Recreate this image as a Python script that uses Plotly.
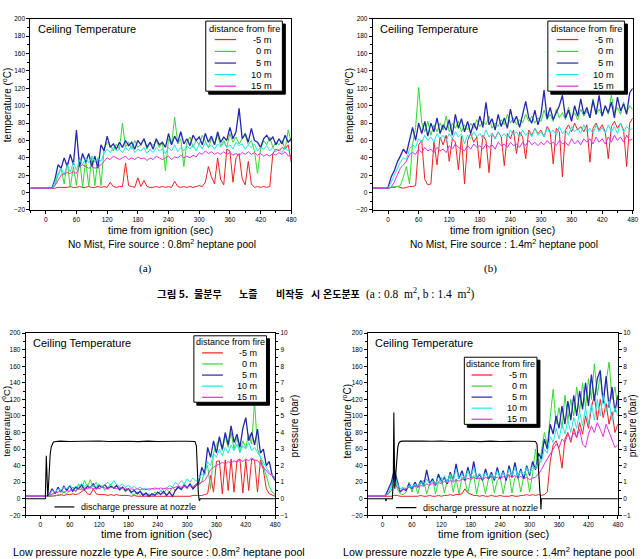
import plotly.graph_objects as go

# ---------------- data ----------------
T = [-30, -24, -18, -12, -6, 0, 6, 12, 18, 24, 30, 36, 42, 48, 54, 60, 66, 72, 78, 84,
     90, 96, 102, 108, 114, 120, 126, 132, 138, 144, 150, 156, 162, 168, 174, 180, 186, 192, 198, 204,
     210, 216, 222, 228, 234, 240, 246, 252, 258, 264, 270, 276, 282, 288, 294, 300, 306, 312, 318, 324,
     330, 336, 342, 348, 354, 360, 366, 372, 378, 384, 390, 396, 402, 408, 414, 420, 426, 432, 438, 444,
     450, 456, 462, 468, 474, 480]

SERIES_NAMES = ["-5 m", "0 m", "5 m", "10 m", "15 m"]

# (a) No Mist, 0.8 m2
rA = [5,5,5,5,5,5,5,5,5,6, 6,6,6,7,6,6,7,6,6,7, 6,6,7,6,7,6,12,7,6,7, 7,34,8,7,6,17,7,14,7,6,
      6,7,6,7,6,7,6,13,7,6, 7,6,7,6,7,8,7,12,30,18, 10,40,15,9,50,48,12,40,45,16, 9,36,10,6,7,6,7,6,7,45,
      50,48,52,50,55,35]
gA = [5,5,5,5,5,5,5,5,8,20, 28,10,35,6,30,8,40,6,38,7, 42,8,40,8,50,58,55,48,56,50, 80,52,58,50,60,52,56,62,50,58,
      54,60,52,58,25,62,55,87,56,62, 30,58,64,52,60,55,66,58,52,62, 56,66,54,60,52,68,58,64,56,62, 66,55,60,48,22,50,60,55,64,52,
      58,55,60,50,72,58]
bA = [5,5,5,5,5,5,5,5,15,32, 28,40,30,44,32,72,30,45,35,45, 30,42,28,55,48,65,52,56,50,58, 52,60,54,58,50,60,55,62,52,58,
      50,62,55,58,52,68,55,65,58,70, 56,62,54,66,60,64,55,68,58,65, 55,70,58,64,60,75,62,70,97,62, 68,58,74,60,58,52,62,66,60,64,
      55,62,56,66,58,62]
cA = [5,5,5,5,5,5,5,5,12,22, 28,20,32,24,35,26,38,32,40,34, 42,35,40,36,45,50,46,52,48,50, 46,52,48,54,46,50,48,52,45,50,
      46,52,48,50,45,52,48,55,47,52, 48,54,50,55,48,56,50,58,52,55, 50,56,52,58,52,55,50,58,54,56, 50,55,52,56,48,52,50,54,48,52,
      47,50,46,52,48,50]
mA = [5,5,5,5,5,5,5,5,8,14, 20,22,23,22,24,22,30,32,30,28, 30,28,30,32,36,40,38,42,40,38, 40,42,38,40,38,41,39,40,37,40,
      38,42,40,38,40,42,38,41,40,43, 40,42,40,43,41,46,44,48,45,47, 44,46,44,47,44,46,43,45,43,46, 44,47,44,46,43,45,42,44,42,45,
      43,46,44,47,42,43]

# (b) No Mist, 1.4 m2
rB = [5,5,5,5,5,5,6,6,7,6, 5,6,7,7,8,55,60,15,9,10, 58,32,64,55,66,36,62,58,26,65, 10,60,68,58,64,28,66,60,23,68,
      62,70,64,31,68,62,72,45,70,64, 39,72,66,74,68,72,64,76,70,33, 74,70,18,72,78,70,80,72,76,70, 78,35,74,80,72,78,70,39,76,82,
      74,80,72,30,80,86]
gB = [5,5,5,5,5,5,6,7,7,8, 18,30,10,55,75,121,80,70,82,66, 78,70,80,72,88,70,80,74,82,70, 78,72,80,74,84,76,82,78,88,74,
      80,76,84,78,90,80,86,78,84,80, 90,82,88,80,86,82,95,84,90,82, 96,86,92,84,98,86,92,84,96,88, 94,86,108,90,96,88,100,90,112,92,
      98,90,104,92,100,95]
bB = [5,5,5,5,5,6,18,25,35,42, 50,45,62,75,60,80,68,82,65,80, 70,86,68,78,72,84,66,90,74,85, 70,82,68,80,72,88,75,104,78,85,
      72,90,76,86,74,96,80,88,75,92, 105,86,80,95,78,90,118,85,98,84, 92,100,112,86,95,82,100,88,108,90, 98,86,106,90,112,88,100,92,104,86,
      110,94,102,90,115,120]
cB = [5,5,5,5,5,5,12,20,28,35, 40,38,50,55,52,62,58,66,60,64, 58,68,62,66,60,68,62,70,64,68, 56,66,62,70,64,68,62,72,64,68,
      62,70,64,68,62,72,66,70,64,72, 66,70,64,74,66,70,64,74,68,72, 66,76,68,72,66,76,70,74,68,78, 70,74,68,78,70,75,68,78,70,76,
      68,80,70,76,72,74]
mB = [5,5,5,5,5,5,6,12,20,28, 32,36,44,46,44,50,46,52,48,50, 46,52,48,50,46,54,50,56,52,50, 48,54,50,56,52,54,50,56,52,55,
      50,58,54,56,52,58,54,56,52,58, 54,60,55,58,54,58,55,60,56,58, 54,60,56,58,54,62,56,60,55,62, 58,62,56,64,58,62,56,64,58,66,
      60,64,58,66,60,62]

# (c) Low pressure nozzle type A, 0.8 m2
rC = [3,3,3,3,3,3,3,3,3,3, 4,4,5,4,5,5,6,5,6,8, 11,6,5,12,6,5,5,5,4,5, 4,5,4,4,4,4,3,4,3,3,
      3,3,3,3,3,3,3,3,3,3, 3,3,3,3,3,3,3,4,4,4, 4,5,6,28,8,45,46,6,47,10, 48,8,46,48,7,47,10,48,46,8,
      47,35,12,6,4,3]
gC = [3,3,3,3,3,3,3,3,3,4, 3,5,4,8,6,10,14,8,18,12, 22,15,23,14,20,12,16,10,14,18, 12,15,10,14,8,12,6,5,8,4,
      7,4,6,3,8,5,10,6,12,8, 14,10,16,12,18,14,16,12,18,16, 20,35,40,12,55,65,72,58,76,62, 80,60,74,56,70,62,78,66,118,60,
      50,40,28,15,8,5]
bC = [3,3,3,3,3,3,3,3,5,12, 6,14,8,15,10,16,9,14,12,17, 11,15,13,18,12,16,14,17,12,15, 13,16,11,14,10,12,8,10,6,9,
      4,7,3,6,4,8,5,9,4,8, 3,10,14,11,16,13,18,12,16,20, 38,30,62,50,70,55,75,60,80,65, 88,68,78,62,85,98,70,80,65,84,
      55,60,40,45,28,22]
cC = [3,3,3,3,3,3,3,3,4,10, 8,12,10,14,12,16,13,15,14,18, 15,17,14,16,15,18,14,17,20,16, 22,17,15,18,14,16,13,15,12,14,
      11,13,10,12,11,13,10,12,13,16, 14,20,17,22,18,24,20,25,21,24, 30,28,45,40,55,50,60,52,62,55, 65,58,66,56,64,60,68,58,62,56,
      50,45,38,32,28,25]
mC = [3,3,3,3,3,3,3,3,4,6, 7,8,9,8,10,9,11,10,12,11, 13,12,14,12,13,12,14,13,12,14, 13,12,14,12,13,11,12,11,12,11,
      12,11,12,12,13,12,13,12,13,12, 13,14,15,14,15,14,16,15,16,18, 20,22,28,35,38,40,42,44,42,45, 43,46,44,47,45,48,46,49,47,46,
      42,38,34,30,28,26]
tPC = [-30, 0, 10, 12, 13, 14, 15, 16, 18, 20, 22, 24, 26, 28, 32, 40, 60, 80, 100, 120,
       140, 160, 180, 200, 220, 240, 260, 280, 300, 316, 319, 321, 323, 325, 327, 330, 400, 480]
pC = [0, 0, 0, 2.6, 1.4, 0.3, 0.15, 0.5, 1.8, 2.7, 3.1, 3.3, 3.4, 3.44, 3.46, 3.48, 3.46, 3.48, 3.47, 3.49,
      3.46, 3.48, 3.47, 3.45, 3.48, 3.46, 3.48, 3.47, 3.47, 3.46, 3.2, 1.5, 0.3, -0.12, 0, 0, 0, 0]

# (d) Low pressure nozzle type A, 1.4 m2
rD = [3,3,3,3,3,3,3,3,3,4, 4,3,3,3,3,3,3,3,4,3, 3,4,3,3,4,3,4,4,5,4, 5,5,6,12,7,5,4,4,3,4,
      3,3,4,3,3,4,3,3,3,4, 3,3,4,4,5,4,5,4,5,4, 5,8,45,65,70,60,37,72,80,68, 85,74,92,78,100,85,110,125,95,120,
      98,115,90,105,80,90]
gD = [3,3,3,3,3,3,4,6,15,38, 12,6,5,8,20,8,18,6,20,22, 6,18,24,6,20,26,7,22,28,8, 24,6,26,22,7,24,28,6,25,22,
      6,24,28,7,22,26,6,24,30,7, 26,28,8,28,30,8,30,60,35,55, 80,65,100,132,90,110,85,125,95,120, 100,135,105,140,110,145,120,163,125,150,
      118,140,165,120,135,110]
bD = [3,3,3,3,3,3,4,12,20,35, 22,8,12,10,18,12,20,14,22,16, 35,18,24,16,30,20,26,18,32,22, 42,24,34,22,38,25,45,24,30,22,
      36,24,32,22,38,24,34,22,40,26, 44,25,36,24,40,28,45,35,55,48, 72,60,90,78,100,85,112,90,118,95, 125,100,130,108,140,112,150,118,145,155,
      115,148,110,135,105,125]
cD = [3,3,3,3,3,3,4,8,14,28, 18,12,14,12,16,14,18,15,20,16, 24,18,22,17,26,20,28,20,30,22, 36,24,30,24,34,26,38,25,30,24,
      32,26,30,24,34,26,32,25,36,28, 38,27,34,28,38,30,40,36,48,44, 60,55,75,68,85,72,90,78,95,80, 98,85,105,88,110,90,115,95,120,100,
      125,105,118,95,110,100]
mD = [3,3,3,3,3,3,4,6,10,18, 14,10,11,12,14,13,15,14,16,15, 18,16,19,17,20,18,21,19,22,20, 23,21,24,22,25,23,26,24,25,23,
      26,24,27,25,26,24,27,25,28,26, 28,25,27,24,26,23,25,26,30,35, 42,48,55,60,66,62,72,68,78,72, 80,74,84,66,62,78,88,80,92,84,
      75,90,80,70,62,65]
tPD = [-30, 0, 6, 7, 8, 20, 22, 23, 24, 25, 27, 29, 31, 33, 36, 40, 60, 80, 100, 120,
       140, 160, 180, 200, 220, 240, 260, 280, 300, 312, 315, 317, 319, 321, 322, 323, 324, 400, 480]
pD = [0, 0, 0, -0.15, 0, 0, 1.2, 5.2, 1.5, 0.6, 1.5, 2.6, 3.1, 3.35, 3.45, 3.48, 3.46, 3.48, 3.47, 3.49,
      3.46, 3.48, 3.47, 3.45, 3.48, 3.46, 3.48, 3.47, 3.47, 3.46, 3.3, 2.2, 1.0, 0.4, 0.2, -0.65, 0, 0, 0]

X_TICKS = [0, 60, 120, 180, 240, 300, 360, 420, 480]

# ---------------- layout helpers ----------------
W, H = 644, 559
def px(x): return x / W
def py(y): return 1 - y / H

FONT = "Liberation Sans, Arial, sans-serif"
SERIF = "Liberation Serif, Times New Roman, serif"
KR = "Noto Sans CJK KR, sans-serif"
COLORS = ["#ee2020", "#33d633", "#2626b0", "#22e4e4", "#e030e0"]
WIDTHS = [1, 1, 1.3, 1, 1]

fig = go.Figure()

panels = [
    dict(ax="", series=[rA, gA, bA, cA, mA], dx=(30.7, 294.0), dy=(15.0, 208.6)),
    dict(ax="2", series=[rB, gB, bB, cB, mB], dx=(376.3, 638.7), dy=(15.0, 208.6)),
    dict(ax="3", series=[rC, gC, bC, cC, mC], dx=(26.0, 277.7), dy=(333.3, 517.8)),
    dict(ax="4", series=[rD, gD, bD, cD, mD], dx=(371.3, 623.7), dy=(333.3, 517.8)),
]

layout_axes = {}
tickfont = dict(size=6.5, family=FONT, color="black")
for p in panels:
    a = p["ax"]
    xa, ya = "x" + a, "y" + a
    for vals, col, wd, nm in zip(p["series"], COLORS, WIDTHS, SERIES_NAMES):
        fig.add_trace(go.Scatter(x=T, y=vals, mode="lines", name=nm, xaxis=xa, yaxis=ya,
                                 line=dict(color=col, width=wd), showlegend=False, hoverinfo="skip"))
    layout_axes["xaxis" + a] = dict(
        domain=[px(p["dx"][0]), px(p["dx"][1])], range=[-30, 480], anchor=ya,
        tickmode="array", tickvals=X_TICKS, ticks="outside", ticklen=3, tickwidth=1, tickcolor="black",
        showline=True, linecolor="black", linewidth=1, mirror=True, showgrid=False, zeroline=False,
        tickfont=tickfont,
        minor=dict(ticks="outside", dtick=30, tick0=0, ticklen=2, tickcolor="black", showgrid=False))
    layout_axes["yaxis" + a] = dict(
        domain=[py(p["dy"][1]), py(p["dy"][0])], range=[-20, 200], anchor=xa,
        tick0=0, dtick=20, ticks="outside", ticklen=3, tickwidth=1, tickcolor="black",
        showline=True, linecolor="black", linewidth=1, mirror=True, showgrid=False, zeroline=False,
        tickfont=tickfont,
        minor=dict(ticks="outside", dtick=10, tick0=0, ticklen=2, tickcolor="black", showgrid=False))

# pressure traces
for tp, pv, ya, xa, over in [(tPC, pC, "y5", "x3", "y3"), (tPD, pD, "y6", "x4", "y4")]:
    fig.add_trace(go.Scatter(x=tp, y=pv, mode="lines", name="discharge pressure at nozzle",
                             xaxis=xa, yaxis=ya, line=dict(color="black", width=1.1),
                             showlegend=False, hoverinfo="skip"))
    layout_axes["yaxis" + ya[1:]] = dict(
        overlaying=over, side="right", anchor=xa, range=[-1, 10], tick0=0, dtick=1,
        ticks="outside", ticklen=3, tickwidth=1, tickcolor="black",
        showline=True, linecolor="black", linewidth=1, showgrid=False, zeroline=False,
        tickfont=tickfont,
        minor=dict(ticks="outside", dtick=0.5, tick0=0, ticklen=2, tickcolor="black", showgrid=False))

annotations = []
shapes = []

def text(x, y, s, size, family=FONT, xanchor="center", angle=0):
    annotations.append(dict(x=px(x), y=py(y), xref="paper", yref="paper", text=s, showarrow=False,
                            xanchor=xanchor, yanchor="middle", textangle=angle,
                            font=dict(size=size, family=family, color="black")))

def rect(x0, y0, x1, y1, fill, lc, lw):
    shapes.append(dict(type="rect", xref="paper", yref="paper", x0=px(x0), x1=px(x1),
                       y0=py(y1), y1=py(y0), fillcolor=fill, line=dict(color=lc, width=lw), layer="above"))

def hline(x0, x1, y, color, w):
    shapes.append(dict(type="line", xref="paper", yref="paper", x0=px(x0), x1=px(x1),
                       y0=py(y), y1=py(y), line=dict(color=color, width=w), layer="above"))

# legends
legends = [
    dict(box=(207.7, 17.3, 285.0, 88.3), title=(246.5, 25.0), lx=(216.7, 238.3), rx=276.7,
         ys=[36.0, 48.0, 59.8, 71.5, 83.2], fs=9.3),
    dict(box=(553.0, 17.3, 630.3, 88.3), title=(591.8, 25.0), lx=(562.0, 583.7), rx=622.0,
         ys=[36.0, 48.0, 59.8, 71.5, 83.2], fs=9.3),
    dict(box=(195.7, 336.0, 269.0, 403.3), title=(232.3, 342.7), lx=(204.0, 225.0), rx=261.7,
         ys=[353.3, 364.5, 375.8, 387.0, 398.3], fs=9.0),
    dict(box=(468.7, 357.7, 542.0, 425.7), title=(505.3, 364.3), lx=(476.0, 497.0), rx=534.3,
         ys=[375.7, 386.9, 398.1, 409.3, 420.5], fs=9.0),
]
for lg in legends:
    x0, y0, x1, y1 = lg["box"]
    rect(x0 + 3, y0 + 3, x1 + 3, y1 + 3, "black", "black", 1)
    rect(x0, y0, x1, y1, "white", "black", 1)
    text(lg["title"][0], lg["title"][1], "distance from fire", lg["fs"])
    for yy, col, nm in zip(lg["ys"], COLORS, SERIES_NAMES):
        hline(lg["lx"][0], lg["lx"][1], yy, col, 1.2)
        text(lg["rx"], yy, nm, lg["fs"], xanchor="right")

# discharge pressure legend
hline(55.0, 75.0, 509.3, "black", 1.2)
text(79.3, 509.3, "discharge pressure at nozzle", 9, xanchor="left")
hline(399.7, 420.3, 510.0, "black", 1.2)
text(424.7, 510.0, "discharge pressure at nozzle", 9, xanchor="left")

# panel texts
for x, y in [(36.0, 25.7), (381.3, 25.7), (31.7, 343.3), (377.0, 343.3)]:
    text(x, y, "Ceiling Temperature", 11, xanchor="left")

ytitle = "temperature (<sup>o</sup>C)"
text(6.5, 102.0, ytitle, 10, angle=-90)
text(352.0, 102.0, ytitle, 10, angle=-90)
text(6.0, 422.0, ytitle, 9.5, angle=-90)
text(350.0, 422.0, ytitle, 10, angle=-90)
text(297.0, 427.5, "pressure (bar)", 10, angle=-90)
text(638.0, 427.5, "pressure (bar)", 10, angle=-90)

xtitle = "time from ignition (sec)"
text(162.5, 229.0, xtitle, 10.4)
text(507.5, 229.0, xtitle, 10.4)
text(157.5, 537.0, xtitle, 11)
text(498.0, 537.0, xtitle, 11)

text(163.3, 243.5, "No Mist, Fire source : 0.8m<sup>2</sup> heptane pool", 10.2)
text(509.0, 243.5, "No Mist, Fire source : 1.4m<sup>2</sup> heptane pool", 10.2)
text(160.0, 554.0, "Low pressure nozzle type A, Fire source : 0.8m<sup>2</sup> heptane pool", 10.7)
text(494.0, 554.0, "Low pressure nozzle type A, Fire source : 1.4m<sup>2</sup> heptane pool", 10.7)

text(147.0, 268.0, "(a)", 11, family=SERIF)
text(494.7, 268.0, "(b)", 11, family=SERIF)

# caption
text(156.7, 293.0, "<b>그림 5.</b>", 10.5, family=KR, xanchor="left")
text(209.5, 293.0, "<b>물분무</b>", 10, family=KR)
text(250.0, 293.0, "<b>노즐</b>", 10, family=KR)
text(292.5, 293.0, "<b>비작동</b>", 10, family=KR)
text(318.5, 293.0, "<b>시</b>", 10, family=KR)
text(324.0, 293.0, "<b>온도분포</b>", 10, family=KR, xanchor="left")
text(367.0, 293.0, "(a : 0.8  m<sup>2</sup>, b : 1.4  m<sup>2</sup>)", 11.5, family=SERIF, xanchor="left")

fig.update_layout(
    width=W, height=H, autosize=False,
    margin=dict(l=0, r=0, t=0, b=0, pad=0),
    paper_bgcolor="white", plot_bgcolor="white",
    showlegend=False,
    annotations=annotations, shapes=shapes,
    **layout_axes,
)

fig.write_html("out.html")
